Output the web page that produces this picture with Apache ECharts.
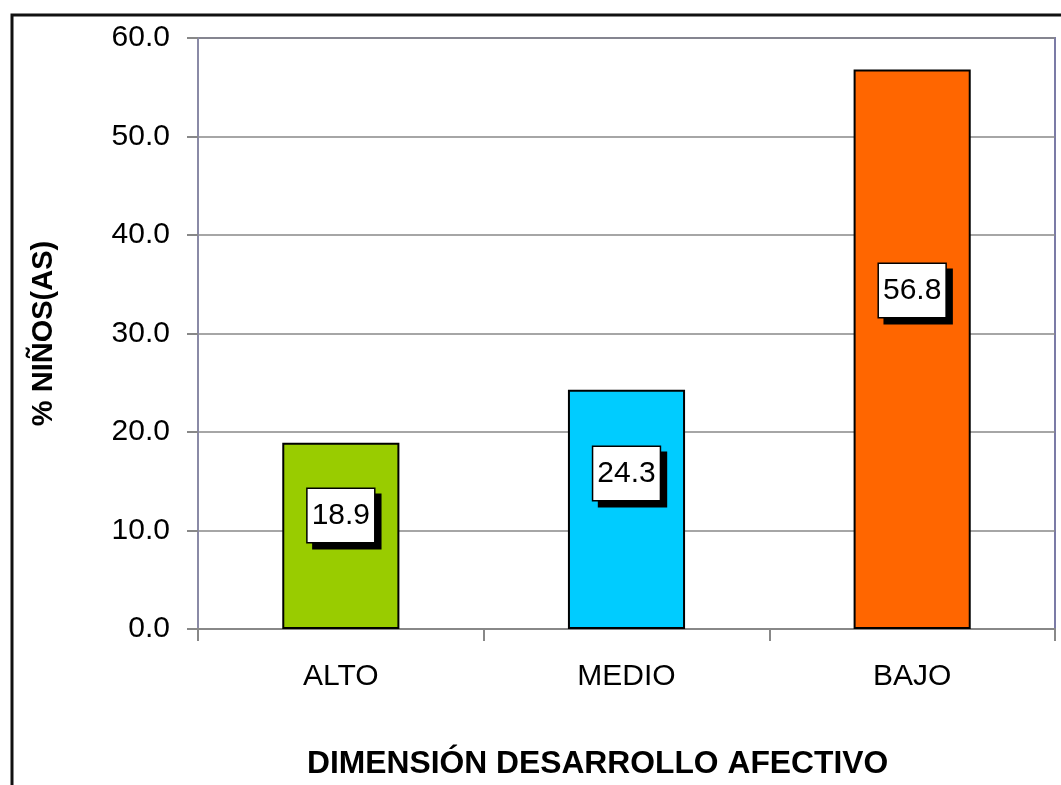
<!DOCTYPE html>
<html>
<head>
<meta charset="utf-8">
<script src="https://cdn.jsdelivr.net/npm/echarts@6/dist/echarts.min.js"></script>
<style>
  html, body { margin: 0; padding: 0; background: #fff; }
  #chart { width: 1061px; height: 785px; }
</style>
</head>
<body>
<div id="chart"></div>
<script>
// datos del gráfico
const categories = ['ALTO', 'MEDIO', 'BAJO']
const values = [18.9, 24.3, 56.8]
const barColors = ['#99cc00', '#00ccff', '#ff6600']
const yTicks = [0, 10, 20, 30, 40, 50, 60]

const font = '"Liberation Sans", Arial, sans-serif'
const myChart = echarts.init(document.getElementById('chart'))

// posición vertical de la etiqueta dentro de cada barra
const labelTop = ['39%', '35%', '39.5%']

const option = {
  animation: false,
  backgroundColor: '#fff',
  textStyle: { fontFamily: font },
  grid: {
    left: 198, top: 38, right: 6, bottom: 156,
    show: true, borderColor: '#7b7ba6', borderWidth: 2, backgroundColor: 'transparent'
  },
  graphic: [
    {
      type: 'rect', silent: true,
      shape: { x: 12, y: 15, width: 1100, height: 820 },
      style: { fill: 'none', stroke: '#111', lineWidth: 3 }
    },
    {
      type: 'text', left: 307, top: 748, silent: true,
      style: { text: 'DIMENSIÓN DESARROLLO AFECTIVO', font: 'bold 31.8px ' + font, fill: '#000' }
    }
  ],
  xAxis: {
    type: 'category',
    data: categories,
    axisLine: { lineStyle: { color: '#888', width: 2 } },
    axisTick: { show: true, length: 12, lineStyle: { color: '#888', width: 2 } },
    axisLabel: { color: '#000', fontSize: 30, margin: 33, fontFamily: font }
  },
  yAxis: {
    type: 'value',
    min: 0, max: 60, interval: 10,
    name: '% NIÑOS(AS)',
    nameLocation: 'middle',
    nameGap: 140,
    nameTextStyle: { fontSize: 29, fontWeight: 'bold', color: '#000', fontFamily: font },
    axisLine: { show: true, lineStyle: { color: '#8a8aa6', width: 2 } },
    axisTick: { show: true, length: 11, lineStyle: { color: '#888', width: 2 } },
    axisLabel: {
      color: '#000', fontSize: 30, margin: 28, fontFamily: font,
      formatter: v => yTicks.includes(v) ? v.toFixed(1) : ''
    },
    splitLine: { lineStyle: { color: '#888', width: 1.5 } }
  },
  series: [{
    type: 'bar',
    barWidth: '41%',
    data: values.map((v, i) => ({
      value: v,
      itemStyle: { color: barColors[i] },
      label: { position: ['50%', labelTop[i]] }
    })),
    itemStyle: { borderColor: '#000', borderWidth: 2 },
    label: {
      show: true,
      align: 'center',
      verticalAlign: 'middle',
      formatter: p => p.value.toFixed(1),
      fontSize: 30,
      lineHeight: 32,
      color: '#000',
      fontFamily: font,
      backgroundColor: '#fff',
      borderColor: '#000',
      borderWidth: 1.5,
      padding: [11, 4, 10, 4],
      shadowColor: '#000',
      shadowBlur: 0,
      shadowOffsetX: 6,
      shadowOffsetY: 6
    }
  }]
}

option && myChart.setOption(option)
</script>
</body>
</html>
